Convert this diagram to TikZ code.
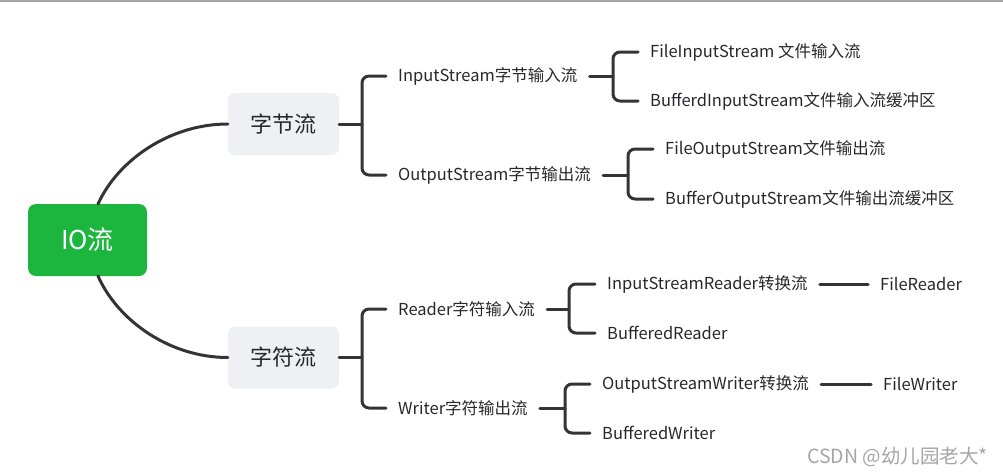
\documentclass[tikz,border=0pt]{standalone}
\usepackage{fontspec}
\setmainfont{Noto Sans CJK SC}
\usetikzlibrary{calc}
\definecolor{rootgreen}{RGB}{28,182,62}
\definecolor{boxgray}{RGB}{238,240,244}
\definecolor{linegray}{RGB}{52,52,56}
\definecolor{textgray}{RGB}{40,40,44}
\definecolor{markgray}{RGB}{165,165,168}
\tikzset{
  rootbox/.style={draw=none, fill=rootgreen, rounded corners=8pt, minimum width=119pt, minimum height=72pt, inner sep=0pt, text=white, font=\fontsize{26}{30}\selectfont},
  mainbox/.style={draw=none, fill=boxgray, rounded corners=7pt, minimum width=111pt, minimum height=62pt, inner sep=0pt, text=textgray, font=\fontsize{22}{26}\selectfont},
  leaf/.style={anchor=west, inner xsep=12pt, inner ysep=2pt, yshift=-1pt, text=textgray, font=\fontsize{16.5}{19}\selectfont},
  conn/.style={draw=linegray, line width=3pt, line cap=round},
  brace/.style={conn, rounded corners=7pt},
}
\begin{document}
\begin{tikzpicture}[x=1pt, y=-1pt]
\useasboundingbox (0,0) rectangle (1003,475);
\draw[line width=1.5pt, draw=gray!70] (0,1) -- (1003,1);

\node[rootbox] (root) at (87.5,240) {IO流};
\node[mainbox] (kb) at (283.5,124) {字节流};
\node[mainbox] (kc) at (283.5,357.5) {字符流};

\node[leaf] (is) at (386,75) {InputStream字节输入流};
\node[leaf] (os) at (386,174) {OutputStream字节输出流};
\node[leaf] (fis) at (638,51) {FileInputStream 文件输入流};
\node[leaf] (bis) at (638,100) {BufferdInputStream文件输入流缓冲区};
\node[leaf] (fos) at (653,148) {FileOutputStream文件输出流};
\node[leaf] (bos) at (653,198) {BufferOutputStream文件输出流缓冲区};

\node[leaf] (rd) at (386,308) {Reader字符输入流};
\node[leaf] (wr) at (386,407) {Writer字符输出流};
\node[leaf] (isr) at (595,283) {InputStreamReader转换流};
\node[leaf] (br) at (595,332) {BufferedReader};
\node[leaf] (osw) at (590,383) {OutputStreamWriter转换流};
\node[leaf] (bw) at (590,432) {BufferedWriter};
\node[leaf] (fr) at (868,283) {FileReader};
\node[leaf] (fw) at (871,383) {FileWriter};

\node[anchor=west, inner sep=0pt, text=markgray, font=\fontsize{19.5}{23}\selectfont] (mark) at (807,457) {CSDN @幼儿园老大*};

% curves from root
\coordinate (rt) at (98,204);
\coordinate (rb) at (98,276);
\draw[conn] (rt) .. controls (118,160) and (170,124) .. (kb.west);
\draw[conn] (rb) .. controls (118,321) and (170,357.5) .. (kc.west);

% brackets
\coordinate (b1) at (362,124);
\draw[conn] (kb.east) -- (b1);
\draw[brace] (is.west) -- (is.west -| b1) -- (os.west -| b1) -- (os.west);

\coordinate (b2) at (613,75);
\draw[conn] (is.east) -- (b2 |- is.east);
\draw[brace] (fis.west) -- (fis.west -| b2) -- (bis.west -| b2) -- (bis.west);

\coordinate (b3) at (628,174);
\draw[conn] (os.east) -- (b3 |- os.east);
\draw[brace] (fos.west) -- (fos.west -| b3) -- (bos.west -| b3) -- (bos.west);

\coordinate (b4) at (362,357.5);
\draw[conn] (kc.east) -- (b4);
\draw[brace] (rd.west) -- (rd.west -| b4) -- (wr.west -| b4) -- (wr.west);

\coordinate (b5) at (569,308);
\draw[conn] (rd.east) -- (b5 |- rd.east);
\draw[brace] (isr.west) -- (isr.west -| b5) -- (br.west -| b5) -- (br.west);

\coordinate (b6) at (565,407);
\draw[conn] (wr.east) -- (b6 |- wr.east);
\draw[brace] (osw.west) -- (osw.west -| b6) -- (bw.west -| b6) -- (bw.west);

\draw[conn] (isr.east) -- (fr.west);
\draw[conn] (osw.east) -- (fw.west);
\end{tikzpicture}
\end{document}
